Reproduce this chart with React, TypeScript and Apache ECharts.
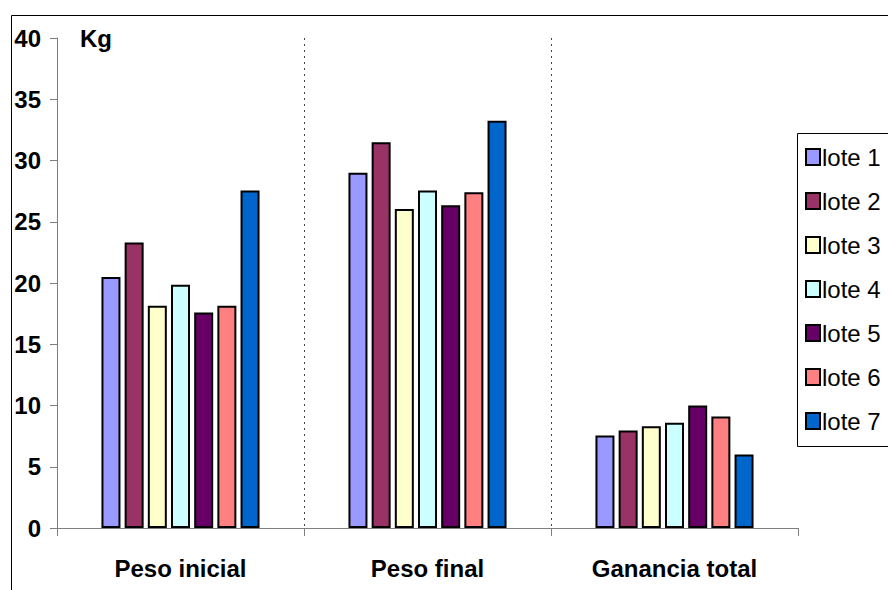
import React, { useEffect, useRef } from "react";
import * as echarts from "echarts";

const categories = ["Peso inicial", "Peso final", "Ganancia total"];
const seriesNames = ["lote 1", "lote 2", "lote 3", "lote 4", "lote 5", "lote 6", "lote 7"];
const lote1 = [20.5, 29.0, 7.55];
const lote2 = [23.3, 31.5, 7.95];
const lote3 = [18.15, 26.05, 8.3];
const lote4 = [19.85, 27.55, 8.6];
const lote5 = [17.6, 26.35, 10.0];
const lote6 = [18.15, 27.4, 9.1];
const lote7 = [27.55, 33.25, 6.0];
const seriesValues = [lote1, lote2, lote3, lote4, lote5, lote6, lote7];
const colors = ["#9999FF", "#993366", "#FFFFCC", "#CCFFFF", "#660066", "#FF8080", "#0066CC"];
const yTicks = [0, 5, 10, 15, 20, 25, 30, 35, 40];

const FONT = "'Liberation Sans', Arial, sans-serif";

export default function App() {
  const ref = useRef<HTMLDivElement>(null);
  useEffect(() => {
    if (!ref.current) return;
    const chart = echarts.init(ref.current, null, { renderer: "svg" });
    chart.setOption({
      animation: false,
      backgroundColor: "#ffffff",
      textStyle: { fontFamily: FONT },
      grid: { left: 57, right: 90, top: 38, bottom: 62, containLabel: false },
      legend: {
        orient: "vertical",
        left: 805,
        top: 145,
        itemGap: 20,
        itemWidth: 14,
        itemHeight: 16,
        padding: 0,
        icon: "rect",
        data: seriesNames,
        textStyle: { fontFamily: FONT, fontSize: 24, color: "#000", padding: [0, 0, 0, -3] },
      },
      xAxis: {
        type: "category",
        data: categories,
        axisLine: { lineStyle: { color: "#7f7f7f", width: 1 } },
        axisTick: { show: true, length: 8, lineStyle: { color: "#7f7f7f" } },
        axisLabel: { margin: 28, fontFamily: FONT, fontSize: 24, fontWeight: "bold", color: "#000" },
        splitLine: {
          show: true,
          showMinLine: false,
          showMaxLine: false,
          lineStyle: { color: "#444", type: [2, 4], width: 1 },
        },
      },
      yAxis: {
        type: "value",
        min: 0,
        max: 40,
        interval: 5,
        axisLine: { show: true, lineStyle: { color: "#7f7f7f", width: 1 } },
        axisTick: { show: true, length: 7, lineStyle: { color: "#7f7f7f" } },
        axisLabel: {
          margin: 16,
          fontFamily: FONT,
          fontSize: 24,
          fontWeight: "bold",
          color: "#000",
          formatter: (v: number) => (yTicks.includes(v) ? String(v) : ""),
        },
        splitLine: { show: false },
      },
      graphic: [
        {
          type: "rect",
          silent: true,
          shape: { x: 11.5, y: 15.5, width: 1000, height: 1000 },
          style: { fill: "none", stroke: "#000", lineWidth: 1 },
          z: -1,
        },
        {
          type: "rect",
          silent: true,
          shape: { x: 797.5, y: 133.5, width: 200, height: 313 },
          style: { fill: "#fff", stroke: "#000", lineWidth: 1 },
          z: -1,
        },
        {
          type: "text",
          left: 80,
          top: 26,
          style: { text: "Kg", fontFamily: FONT, fontSize: 24, fontWeight: "bold", fill: "#000" },
        },
      ],
      series: seriesNames.map((name, i) => ({
        name,
        type: "bar",
        data: seriesValues[i],
        barCategoryGap: "36%",
        barGap: "22%",
        itemStyle: { color: colors[i], borderColor: "#000", borderWidth: 2 },
      })),
    });
    return () => chart.dispose();
  }, []);
  return (
    <div
      ref={ref}
      style={{ width: 888, height: 590, position: "absolute", left: 0, top: 0 }}
    />
  );
}
